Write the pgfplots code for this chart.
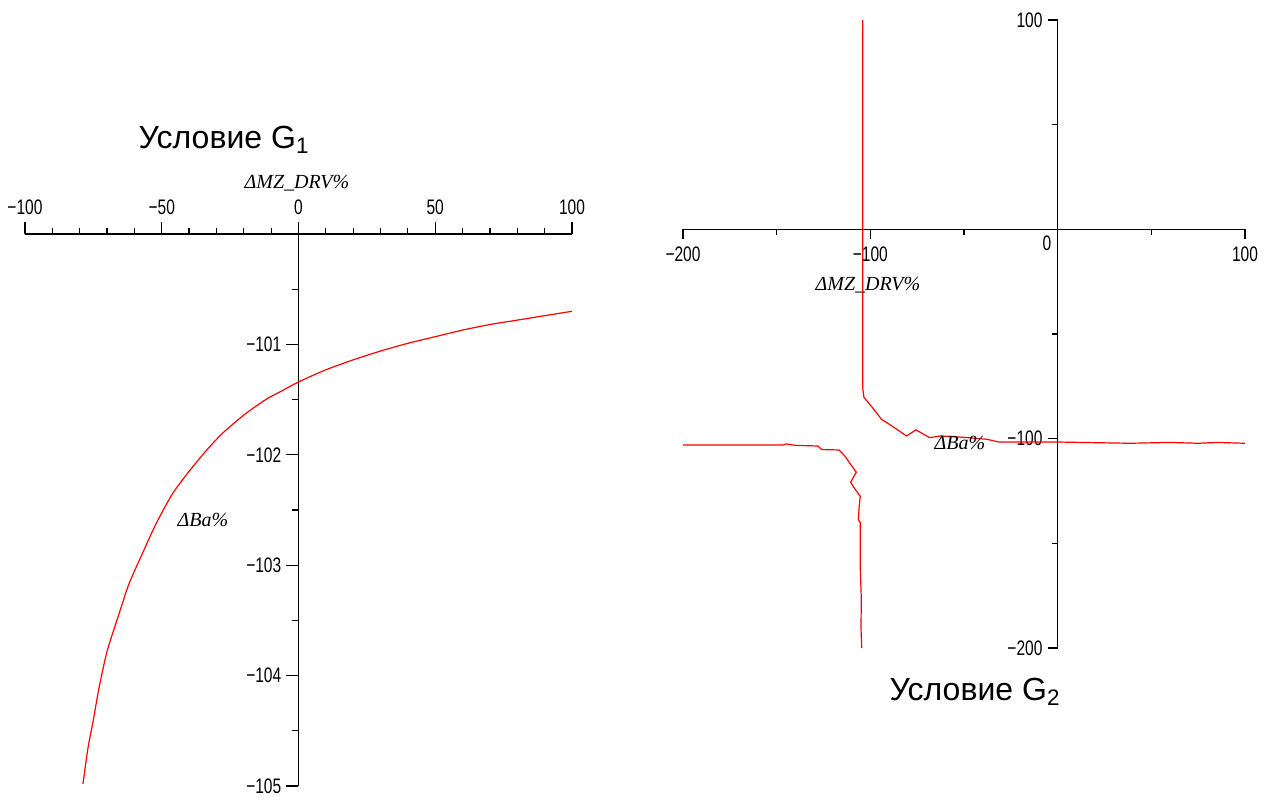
\documentclass[border=0pt]{standalone}
\usepackage{pgfplots}
\pgfplotsset{compat=1.18}
\usepackage{fontspec}
\setmainfont{Liberation Sans}
\newfontfamily\lserif{Liberation Serif}
\begin{document}
\begin{tikzpicture}
\path[use as bounding box] (0,0) rectangle (633pt,400pt);
% ---------- left plot (G1)
\begin{axis}[at={(12.5pt,7pt)}, anchor=south west, scale only axis,
  width=273.5pt, height=276pt,
  xmin=-100, xmax=100, ymin=-105, ymax=-100,
  axis x line=top, axis y line=middle,
  axis line style={-, line width=0.6pt},
  xtick={-100,-50,0,50,100}, xticklabels={−100,−50,0,50,100},
  minor xtick={-90,-80,-70,-60,-40,-30,-20,-10,10,20,30,40,60,70,80,90},
  ytick={-101,-102,-103,-104,-105}, yticklabels={−101,−102,−103,−104,−105},
  minor ytick={-100.5,-101.5,-102.5,-103.5,-104.5},
  tick align=outside, major tick length=6pt, minor tick length=3pt,
  tick style={black, line width=0.6pt},
  tick label style={font=\fontsize{10.5}{12}\selectfont, xscale=0.74},
  clip=false]
\addplot[red, line width=0.6pt, smooth, tension=0.4] coordinates {
(-78.8,-104.98) (-77,-104.66) (-75,-104.40) (-73,-104.12) (-70,-103.78)
(-66,-103.47) (-62,-103.17) (-57,-102.89) (-52,-102.62) (-46,-102.35)
(-40,-102.15) (-34,-101.97) (-28,-101.81) (-20,-101.64) (-12,-101.50)
(-6,-101.42) (0,-101.34) (10,-101.23) (20,-101.14) (30,-101.06)
(40,-100.99) (50,-100.93) (60,-100.87) (70,-100.82) (80,-100.78)
(90,-100.74) (100,-100.70)};
\end{axis}
% ---------- right plot (G2)
\begin{axis}[at={(341.5pt,76pt)}, anchor=south west, scale only axis,
  width=281pt, height=314pt,
  xmin=-200, xmax=100, ymin=-200, ymax=100,
  axis lines=middle,
  axis line style={-, line width=0.6pt},
  xtick={-200,-100,0,100}, xticklabels={−200,−100,,100},
  minor xtick={-150,-50,50},
  ytick={-200,-100,100}, yticklabels={−200,−100,100},
  minor ytick={-150,-50,50},
  tick align=outside, major tick length=5pt, minor tick length=3pt,
  tick style={black, line width=0.6pt},
  tick label style={font=\fontsize{10.5}{12}\selectfont, xscale=0.74},
  clip=false]
\addplot[red, line width=0.6pt] coordinates {
(-104,100) (-104,-76.3) (-103.4,-80.3) (-98.2,-85.9) (-94.1,-90.7)
(-89,-93.6) (-80.7,-98.7) (-75.6,-95.8) (-68.4,-99.5) (-62.3,-98.7)
(-47.9,-99.5) (-37.6,-100.3) (-31.4,-101.6) (0,-101.6) (38.4,-102.2)
(60,-101.8) (75,-102.2) (85,-101.8) (100,-102.2)};
\addplot[red, line width=0.6pt] coordinates {
(-200,-103) (-146.5,-103) (-145,-102.5) (-140,-103.2) (-128,-103.5)
(-126,-105.2) (-116.7,-105.4) (-113.6,-108.3) (-110.5,-112.3) (-107.5,-116)
(-110.5,-120.8) (-109,-123) (-105.4,-127.5) (-106,-133) (-106.4,-138.7)
(-105.4,-140) (-105.4,-161.1) (-104.8,-177) (-105,-190) (-104.6,-200)};
\end{axis}
% ---------- titles and axis labels
\node[font=\fontsize{16}{18}\selectfont] at (112pt,330pt) {Условие G\textsubscript{1}};
\node[font=\fontsize{10}{12}\selectfont\lserif\itshape] at (148.5pt,308.5pt) {ΔMZ\_DRV\%};
\node[font=\fontsize{10}{12}\selectfont\lserif\itshape] at (101.5pt,140pt) {ΔBa\%};
\node[font=\fontsize{10}{12}\selectfont\lserif\itshape] at (434pt,257.5pt) {ΔMZ\_DRV\%};
\node[font=\fontsize{10}{12}\selectfont\lserif\itshape] at (480pt,178.5pt) {ΔBa\%};
\node[font=\fontsize{10.5}{12}\selectfont, xscale=0.74] at (523.5pt,278.5pt) {0};
\node[font=\fontsize{16}{18}\selectfont] at (487.5pt,54pt) {Условие G\textsubscript{2}};
\end{tikzpicture}
\end{document}
